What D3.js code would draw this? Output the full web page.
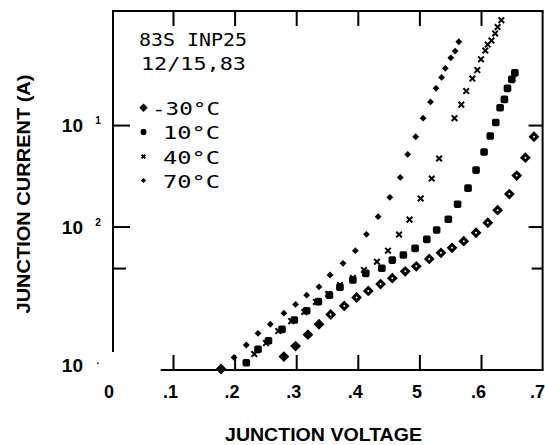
<!DOCTYPE html>
<html>
<head>
<meta charset="utf-8">
<script src="https://cdn.jsdelivr.net/npm/d3@7"></script>
<style>
  html, body { margin: 0; padding: 0; background: #fff; }
  svg { display: block; }
</style>
</head>
<body>
<svg id="chart" width="545" height="445"></svg>
<script>
// ---------- DATA ----------
const seriesNames = ["-30°C", "10°C", "40°C", "70°C"];

const volt30 = [0.178, 0.280, 0.299, 0.319, 0.337, 0.356, 0.378, 0.398, 0.417, 0.437, 0.456, 0.477, 0.495, 0.516, 0.535, 0.553, 0.572, 0.592, 0.611, 0.627, 0.646, 0.658, 0.672, 0.686];
const curr30 = [3.95e-4, 5.24e-4, 6.64e-4, 8.61e-4, 1.09e-3, 1.36e-3, 1.65e-3, 2.00e-3, 2.32e-3, 2.71e-3, 3.10e-3, 3.62e-3, 4.06e-3, 4.80e-3, 5.51e-3, 6.17e-3, 7.18e-3, 8.69e-3, 1.09e-2, 1.45e-2, 2.09e-2, 3.18e-2, 4.77e-2, 7.67e-2];

const volt10 = [0.219, 0.238, 0.255, 0.277, 0.297, 0.317, 0.336, 0.354, 0.371, 0.392, 0.413, 0.439, 0.456, 0.474, 0.493, 0.512, 0.528, 0.547, 0.562, 0.579, 0.592, 0.605, 0.615, 0.624, 0.631, 0.638, 0.643, 0.650, 0.655];
const curr10 = [4.55e-4, 6.17e-4, 7.50e-4, 9.70e-4, 1.20e-3, 1.48e-3, 1.82e-3, 2.11e-3, 2.52e-3, 2.97e-3, 3.46e-3, 3.88e-3, 4.67e-3, 5.24e-3, 6.10e-3, 7.48e-3, 9.24e-3, 1.18e-2, 1.66e-2, 2.39e-2, 3.60e-2, 5.42e-2, 7.80e-2, 0.106, 0.148, 0.179, 0.230, 0.282, 0.327];

const volt40 = [0.232, 0.251, 0.271, 0.292, 0.313, 0.332, 0.352, 0.371, 0.392, 0.410, 0.431, 0.449, 0.467, 0.484, 0.502, 0.520, 0.532, 0.557, 0.568, 0.576, 0.586, 0.594, 0.600, 0.607, 0.611, 0.617, 0.623, 0.627, 0.633];
const curr40 = [5.54e-4, 7.11e-4, 9.33e-4, 1.17e-3, 1.44e-3, 1.81e-3, 2.17e-3, 2.65e-3, 3.11e-3, 3.73e-3, 4.50e-3, 5.78e-3, 8.34e-3, 1.17e-2, 1.89e-2, 2.97e-2, 4.68e-2, 0.117, 0.159, 0.216, 0.287, 0.348, 0.444, 0.542, 0.621, 0.680, 0.800, 0.924, 1.08];

const volt70 = [0.199, 0.219, 0.238, 0.258, 0.280, 0.299, 0.317, 0.337, 0.355, 0.376, 0.396, 0.414, 0.433, 0.452, 0.469, 0.481, 0.494, 0.506, 0.518, 0.527, 0.536, 0.542, 0.551, 0.558, 0.564];
const curr70 = [5.14e-4, 6.81e-4, 8.87e-4, 1.09e-3, 1.40e-3, 1.71e-3, 2.11e-3, 2.55e-3, 3.33e-3, 4.34e-3, 5.78e-3, 8.38e-3, 1.25e-2, 1.94e-2, 3.05e-2, 5.14e-2, 7.67e-2, 0.117, 0.169, 0.230, 0.295, 0.362, 0.460, 0.536, 0.662];

const xDomain = [0, 0.7];
const xTickValues = [0.1, 0.2, 0.3, 0.4, 0.5, 0.6];
const xLabelValues = [0, 0.1, 0.2, 0.3, 0.4, 0.5, 0.6, 0.7];
const xLabelTexts = ["0", ".1", ".2", ".3", ".4", "5", ".6", ".7"];

const yDomain = [3.86e-4, 1.33];
const yMajorTicks = [0.1, 0.01];
const yMinorTicks = [0.0039];
const yLabelValues = [0.1, 0.01, 3.86e-4];
const yLabelBase = ["10", "10", "10"];
const yLabelSup = ["1", "2", "."];

const titleLines = ["83S INP25", "12/15,83"];
const xTitle = "JUNCTION VOLTAGE";
const yTitle = "JUNCTION CURRENT (A)";

// ---------- LAYOUT ----------
const svg = d3.select("#chart");
const L = 111.4, R = 542.6, T = 11, B = 370;
const x = d3.scaleLinear().domain(xDomain).range([L, R]);
const y = d3.scaleLog().domain(yDomain).range([B, T]);
const axisX = x(0) + 1.6;   // left frame line
const ink = "#000";
const sans = "'Liberation Sans', Arial, sans-serif";

// frame (scanned original has a broken lower-left corner)
const frame = svg.append("g").attr("stroke", ink).attr("stroke-width", 2).attr("fill", "none");
frame.append("line").attr("x1", axisX - 1).attr("x2", R + 1).attr("y1", T).attr("y2", T);
frame.append("line").attr("x1", R).attr("x2", R).attr("y1", T).attr("y2", B);
frame.append("line").attr("x1", x(0.08)).attr("x2", R + 1).attr("y1", B).attr("y2", B);
frame.append("line").attr("x1", axisX).attr("x2", axisX).attr("y1", T).attr("y2", y(5.8e-4));

function styleAxis(g) {
  g.select(".domain").remove();
  g.selectAll(".tick line").attr("stroke", ink).attr("stroke-width", 2);
}

// bottom ticks (inward)
svg.append("g").attr("transform", `translate(0,${B})`)
  .call(d3.axisBottom(x).tickValues(xTickValues).tickSizeInner(-15).tickSizeOuter(0).tickFormat(""))
  .call(styleAxis);
// top ticks (inward)
svg.append("g").attr("transform", `translate(0,${T})`)
  .call(d3.axisTop(x).tickValues(xTickValues).tickSizeInner(-15).tickSizeOuter(0).tickFormat(""))
  .call(styleAxis);
// bottom labels
const xl = svg.append("g").attr("transform", `translate(0,${B})`)
  .call(d3.axisBottom(x).tickValues(xLabelValues).tickSize(0).tickFormat((d, i) => xLabelTexts[i]));
xl.select(".domain").remove();
xl.selectAll(".tick text")
  .attr("y", 28).attr("dy", null).attr("dx", -3)
  .attr("font-family", sans)
  .attr("font-weight", "bold").attr("font-size", 18).attr("fill", ink);
xl.selectAll(".tick text").filter(d => d === 0.7).attr("text-anchor", "end").attr("dx", 2);

// left ticks
svg.append("g").attr("transform", `translate(${axisX},0)`)
  .call(d3.axisLeft(y).tickValues(yMajorTicks).tickSizeInner(-17).tickSizeOuter(0).tickFormat(""))
  .call(styleAxis);
svg.append("g").attr("transform", `translate(${axisX},0)`)
  .call(d3.axisLeft(y).tickValues(yMinorTicks).tickSizeInner(-13).tickSizeOuter(0).tickFormat(""))
  .call(styleAxis);
// right ticks
svg.append("g").attr("transform", `translate(${R},0)`)
  .call(d3.axisRight(y).tickValues(yMajorTicks).tickSizeInner(-14).tickSizeOuter(0).tickFormat(""))
  .call(styleAxis);
svg.append("g").attr("transform", `translate(${R},0)`)
  .call(d3.axisRight(y).tickValues(yMinorTicks).tickSizeInner(-11).tickSizeOuter(0).tickFormat(""))
  .call(styleAxis);

// left labels "10" with superscript
const yl = svg.append("g").attr("font-family", sans).attr("font-weight", "bold").attr("fill", ink);
yLabelValues.forEach((v, i) => {
  const yy = Math.min(y(v), B - 5);
  yl.append("text").attr("x", 83).attr("y", yy + 7).attr("text-anchor", "end")
    .attr("font-size", 19).text(yLabelBase[i]);
  yl.append("text").attr("x", 98).attr("y", yy - 1).attr("text-anchor", "middle")
    .attr("font-size", 10).text(yLabelSup[i]);
});

// axis titles
svg.append("text").attr("x", 323.5).attr("y", 441).attr("text-anchor", "middle")
  .attr("font-family", sans).attr("font-weight", "bold")
  .attr("font-size", 18).attr("textLength", 197).attr("lengthAdjust", "spacingAndGlyphs")
  .attr("fill", ink).text(xTitle);
svg.append("text").attr("transform", "translate(30,194) rotate(-90)").attr("text-anchor", "middle")
  .attr("font-family", sans).attr("font-weight", "bold")
  .attr("font-size", 18).attr("textLength", 239).attr("lengthAdjust", "spacingAndGlyphs")
  .attr("fill", ink).text(yTitle);

// title block (plotter mono font)
const mono = "'DejaVu Sans Mono', 'Liberation Mono', monospace";
svg.append("text").attr("x", 139).attr("y", 46).attr("font-family", mono).attr("font-size", 18)
  .attr("textLength", 108).attr("lengthAdjust", "spacingAndGlyphs").attr("fill", ink).text(titleLines[0]);
svg.append("text").attr("x", 141).attr("y", 70).attr("font-family", mono).attr("font-size", 18)
  .attr("textLength", 105).attr("lengthAdjust", "spacingAndGlyphs").attr("fill", ink).text(titleLines[1]);

// ---------- MARKERS ----------
const diamond = (h) => `M0,${-h}L${h},0L0,${h}L${-h},0Z`;
const series = [
  {v: volt30, c: curr30, kind: "diamond"},
  {v: volt10, c: curr10, kind: "square"},
  {v: volt40, c: curr40, kind: "x"},
  {v: volt70, c: curr70, kind: "dot"}
];

function drawMarker(g, kind, px, py, i, legend) {
  if (kind === "diamond") {
    const h = legend ? 4.2 : 5.4;
    g.append("path").attr("d", diamond(h)).attr("transform", `translate(${px},${py})`).attr("fill", ink);
    if (!legend && i >= 5) g.append("circle").attr("cx", px).attr("cy", py).attr("r", 1.0).attr("fill", "#fff");
  } else if (kind === "square") {
    const s = legend ? 5.8 : 7.6;
    g.append("rect").attr("x", px - s / 2).attr("y", py - s / 2).attr("width", s).attr("height", s)
      .attr("rx", 1.8).attr("fill", ink);
  } else if (kind === "x") {
    const h = legend ? 1.8 : 2.8;
    g.append("path").attr("d", `M${-h},${-h}L${h},${h}M${-h},${h}L${h},${-h}`)
      .attr("transform", `translate(${px},${py})`).attr("stroke", ink).attr("stroke-width", 2).attr("fill", "none");
  } else {
    const h = legend ? 2.6 : 3.4;
    g.append("path").attr("d", diamond(h)).attr("transform", `translate(${px},${py})`).attr("fill", ink);
  }
}

const marks = svg.append("g");
series.forEach(s => {
  s.v.forEach((v, i) => drawMarker(marks, s.kind, x(v), y(s.c[i]), i, false));
});

// legend
const legendY = [107.7, 132, 156.5, 180.5];
const legendTextX = [152, 163, 163, 163];
const legendTextLen = [68, 57, 57, 57];
const lg = svg.append("g");
series.forEach((s, i) => {
  drawMarker(lg, s.kind, 143.5, legendY[i], 0, true);
  lg.append("text").attr("x", legendTextX[i]).attr("y", legendY[i] + 7)
    .attr("font-family", mono).attr("font-size", 18)
    .attr("textLength", legendTextLen[i]).attr("lengthAdjust", "spacingAndGlyphs")
    .attr("fill", ink).text(seriesNames[i]);
});
</script>
</body>
</html>
